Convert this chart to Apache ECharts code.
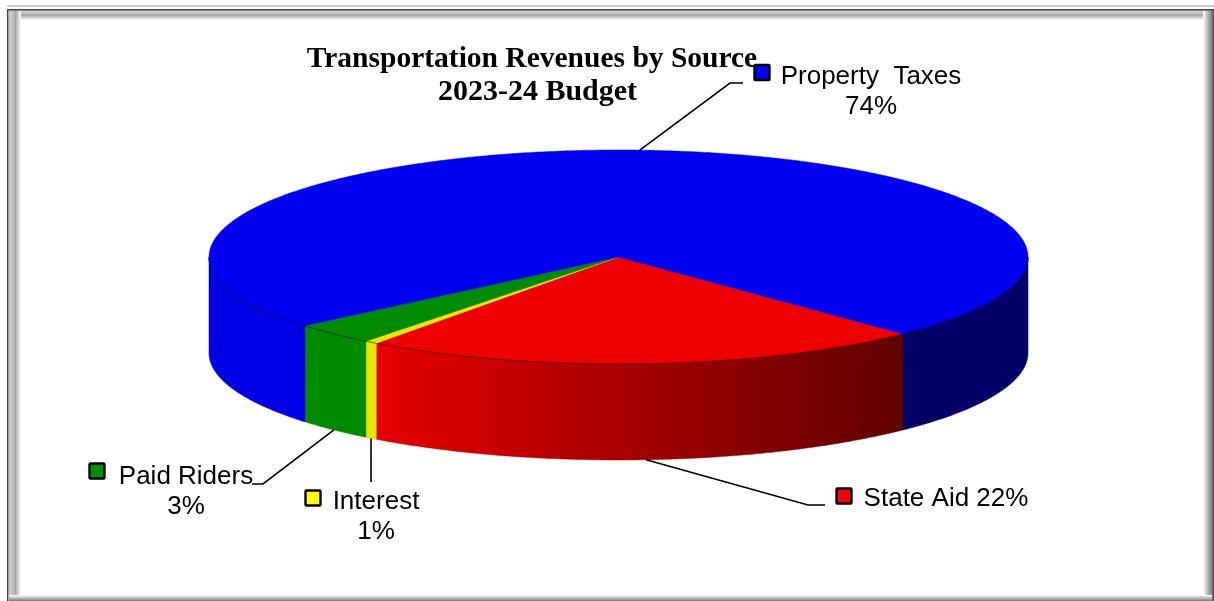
<!DOCTYPE html>
<html><head><meta charset="utf-8">
<style>html,body{margin:0;padding:0;background:#fff}#c{width:1214px;height:601px}</style>
<script src="https://cdn.jsdelivr.net/npm/echarts@6/dist/echarts.min.js"></script>
</head><body><div id="c"></div>
<script>
// ---- data ----
const categories = ['State Aid', 'Interest', 'Paid Riders', 'Property Taxes'];
const values = [22.3, 0.5, 3.3, 73.9];
const labelLines = [['State Aid 22%'], ['Interest', '1%'], ['Paid Riders', '3%'], ['Property  Taxes', '74%']];
const titleLines = ['Transportation Revenues by Source', '2023-24 Budget'];

// ---- styling / layout ----
const topColors = ['#ee0000', '#e8e800', '#008c00', '#0000f0'];
const wallLight = ['#e60000', '#e6e600', '#008a00', '#0000e6'];
const wallDark = ['#600000', '#606000', '#008a00', '#000066'];
const swatchColors = ['#ff0000', '#ffff00', '#009000', '#0000ff'];
const PIE = { cx: 618.5, cy: 257, rx: 409.5, ry: 107, depth: 96, start: 46 };
const SHADE = { x0: 377, x1: 903 };
const LABEL = [
  { sx: 836.5, sy: 488.5, tx: 946, ty: 499, elbow: [808, 505], end: [825, 505] },
  { sx: 305.5, sy: 490.5, tx: 376, ty: 502, elbow: [371, 482], end: [371, 482] },
  { sx: 89.5, sy: 463.5, tx: 186, ty: 477, elbow: [263, 484], end: [252, 484] },
  { sx: 754.5, sy: 65, tx: 871, ty: 77, elbow: [730, 83], end: [743, 83] }
];
const LABEL_FONT = '26px "Liberation Sans", Arial, sans-serif';

const total = values.reduce((a, b) => a + b, 0);
const ranges = [];
values.reduce((acc, v) => {
  const e = acc + v / total * 360;
  ranges.push([acc, e]);
  return e;
}, PIE.start);
const rad = d => d * Math.PI / 180;
const pt = (t, dy) => [PIE.cx + PIE.rx * Math.cos(rad(t)), PIE.cy + PIE.ry * Math.sin(rad(t)) + (dy || 0)];
function arcPts(a, b, dy) {
  const out = [], n = Math.max(2, Math.ceil(Math.abs(b - a) * 2));
  for (let i = 0; i <= n; i++) out.push(pt(a + (b - a) * i / n, dy));
  return out;
}
function wallFill(i) {
  const L = PIE.cx - PIE.rx, R = PIE.cx + PIE.rx, w = R - L;
  return new echarts.graphic.LinearGradient(L, 0, R, 0, [
    { offset: 0, color: wallLight[i] },
    { offset: (SHADE.x0 - L) / w, color: wallLight[i] },
    { offset: (SHADE.x1 - L) / w, color: wallDark[i] },
    { offset: 1, color: wallDark[i] }
  ], true);
}
function visibleFront(a, b) {
  const segs = [];
  [[0, 180], [360, 540]].forEach(([l, h]) => {
    const s = Math.max(a, l), e = Math.min(b, h);
    if (e > s) segs.push([s, e]);
  });
  return segs;
}
const wallSeries = {
  type: 'custom', coordinateSystem: 'none', z: 1, silent: true, animation: false,
  data: values,
  renderItem(params) {
    const i = params.dataIndex, [a, b] = ranges[i], fill = wallFill(i);
    return {
      type: 'group',
      children: visibleFront(a, b).map(([s, e]) => ({
        type: 'polygon',
        shape: { points: arcPts(s, e, 0).concat(arcPts(e, s, PIE.depth)) },
        style: { fill, stroke: fill, lineWidth: 0.5 }
      }))
    };
  }
};
const topSeries = {
  type: 'custom', coordinateSystem: 'none', z: 2, silent: true, animation: false,
  data: values,
  renderItem(params) {
    const i = params.dataIndex, [a, b] = ranges[i];
    const children = [{
      type: 'polygon',
      shape: { points: [[PIE.cx, PIE.cy]].concat(arcPts(a, b, 0)) },
      style: { fill: topColors[i], stroke: topColors[i], lineWidth: 0.5 }
    }];
    visibleFront(a, b).forEach(([s, e]) => children.push({
      type: 'polyline',
      shape: { points: arcPts(s, e, 0) },
      style: { fill: 'none', stroke: 'rgba(0,0,0,0.55)', lineWidth: 1 }
    }));
    return { type: 'group', children };
  }
};
const labelSeries = {
  type: 'custom', coordinateSystem: 'none', z: 3, silent: true, animation: false,
  data: values,
  renderItem(params) {
    const i = params.dataIndex, [a, b] = ranges[i], mid = (a + b) / 2, L = LABEL[i];
    const onFront = Math.sin(rad(mid)) > 0;
    const start = pt(mid, onFront ? PIE.depth : 0);
    const children = [{
      type: 'polyline',
      shape: { points: [start, L.elbow, L.end] },
      style: { fill: 'none', stroke: '#000', lineWidth: 1.6 }
    }, {
      type: 'rect',
      shape: { x: L.sx, y: L.sy, width: 15, height: 15, r: 1 },
      style: { fill: swatchColors[i], stroke: '#000', lineWidth: 2.4 }
    }];
    labelLines[i].forEach((t, k) => children.push({
      type: 'text',
      style: { text: t, x: L.tx, y: L.ty + k * 30, font: LABEL_FONT, fill: '#000', textAlign: 'center', textVerticalAlign: 'middle' }
    }));
    return { type: 'group', children };
  }
};
const g = (c, x, y, x2, y2) => new echarts.graphic.LinearGradient(x, y, x2, y2, c);
const bevel = [
  { offset: 0, color: '#cccccc' }, { offset: 0.3, color: '#c4c4c4' },
  { offset: 0.55, color: '#a8a8a8' }, { offset: 1, color: '#ffffff' }
];
const frame = [
  { x: 7, y: 5, width: 1207, height: 2, fill: '#cfcfcf' },
  { x: 10, y: 10, width: 1204, height: 10, fill: g(bevel, 0, 0, 0, 1) },
  { x: 9, y: 10, width: 12, height: 591, fill: g(bevel, 0, 0, 1, 0) },
  { x: 1203, y: 10, width: 11, height: 591, fill: g([{ offset: 0, color: '#fff' }, { offset: 0.85, color: '#777' }, { offset: 1, color: '#444' }], 0, 0, 1, 0) },
  { x: 9, y: 595, width: 1203, height: 6, fill: g([{ offset: 0, color: '#fff' }, { offset: 1, color: '#777' }], 0, 0, 0, 1) },
  { x: 7, y: 9, width: 1207, height: 1.5, fill: '#444' },
  { x: 7, y: 9, width: 1.5, height: 592, fill: '#444' }
].map(r => ({
  type: 'rect', silent: true, z: 0,
  shape: { x: r.x, y: r.y, width: r.width, height: r.height },
  style: { fill: r.fill }
}));
const titleFont = { fontFamily: '"Liberation Serif", "Times New Roman", serif', fontWeight: 'bold', color: '#000' };

const chart = echarts.init(document.getElementById('c'), null, { renderer: 'canvas' });
chart.setOption({
  animation: false,
  backgroundColor: '#ffffff',
  title: [
    { text: titleLines[0], left: 527, top: 39, textAlign: 'center', z: 10, textStyle: Object.assign({ fontSize: 29.5 }, titleFont) },
    { text: titleLines[1], left: 532.5, top: 72, textAlign: 'center', z: 10, textStyle: Object.assign({ fontSize: 30 }, titleFont) }
  ],
  graphic: frame,
  series: [wallSeries, topSeries, labelSeries]
});
</script></body></html>
